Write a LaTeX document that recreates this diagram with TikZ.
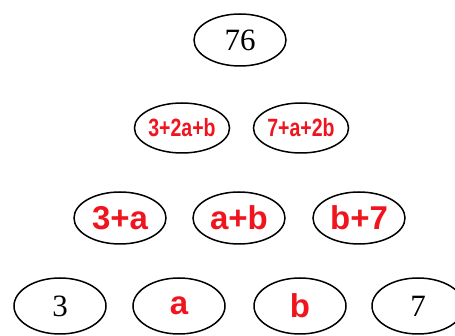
\documentclass[tikz,border=0pt]{standalone}
\usepackage{fontspec}
\setmainfont{Liberation Serif}
\setsansfont{Liberation Sans}
\usetikzlibrary{positioning,shapes.geometric}

\definecolor{inkred}{RGB}{240,20,30}
\newcommand{\narrowed}[1]{\scalebox{0.78}[1]{#1}}

\tikzset{
  cell/.style={ellipse, draw, line width=1.5pt, minimum width=92pt, minimum height=52pt, inner sep=0pt},
  given/.style={font=\fontsize{31}{31}\selectfont},
  found/.style={text=inkred, font=\sffamily\bfseries\fontsize{33}{33}\selectfont},
  smallfound/.style={found, font=\sffamily\bfseries\fontsize{25}{25}\selectfont}
}

\begin{document}
\begin{tikzpicture}[x=1pt,y=-1pt]
    \useasboundingbox (0,0) rectangle (455,336);

    % top
    \node[cell, given] (top) at (240,40) {76};

    % second row
    \node[cell, smallfound, minimum height=50pt] (ba) at (182,128) {\narrowed{3+2a+b}};
    \node[cell, smallfound, minimum height=50pt] (bb) at (301,128) {\narrowed{7+a+2b}};

    % third row
    \node[cell, found] (ca) at (120,218) {3+a};
    \node[cell, found] (cb) at (239,218) {a+b};
    \node[cell, found] (cc) at (359,218) {b+7};

    % bottom row
    \node[cell, given, minimum height=56pt] (da) at (60,306) {3};
    \node[cell, found, minimum height=56pt] (db) at (179,306) {a};
    \node[cell, found, minimum height=56pt] (dc) at (300,306) {b};
    \node[cell, given, minimum height=56pt] (dd) at (418,306) {7};
\end{tikzpicture}
\end{document}
